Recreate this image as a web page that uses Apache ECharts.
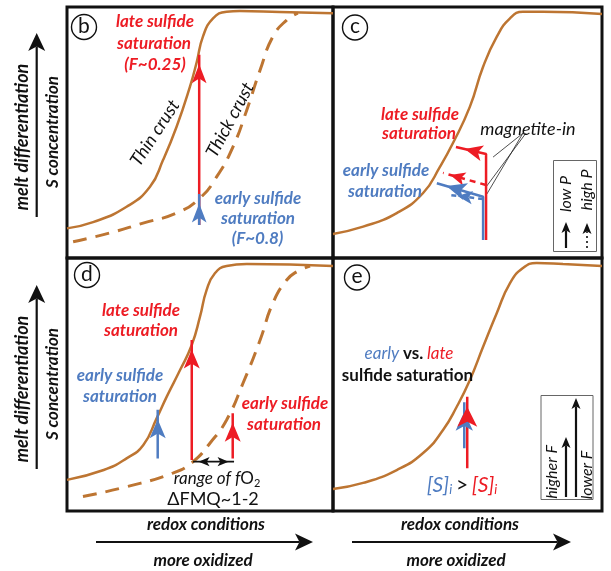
<!DOCTYPE html>
<html>
<head>
<meta charset="utf-8">
<script src="https://cdn.jsdelivr.net/npm/echarts@6/dist/echarts.min.js"></script>
<style>
  html, body { margin: 0; padding: 0; background: #fff; }
  #chart { width: 611px; height: 571px; }
</style>
</head>
<body>
<div id="chart"></div>
<script>
// Sulfide saturation vs. redox: schematic S-concentration curves (panels b–e).
// Every panel uses a 0–100 redox (x) and 0–100 S concentration (y) scale.

// ---- panel b: thin vs. thick crust ----
const thinCrustB = [[0, 11.8], [9.8, 14.3], [22.4, 20.4], [31.2, 28.4], [36.1, 39], [41.2, 52.3], [46.2, 68.2], [48.8, 78.2], [51.1, 88.2], [54.9, 95.5], [60, 98.1], [65, 98.4], [80, 98], [100, 97.5]];
const thickCrustB = [[2.3, 6.5], [16.2, 10], [28.6, 13.9], [41.2, 17.9], [50, 23.9], [56.3, 32.4], [62.4, 44.3], [67.6, 59], [72.6, 74.9], [77.4, 88.2], [82.6, 94.8], [86.8, 97.6]];
const lateSatB = [[49.7, 13.1], [49.7, 81]];
const earlySatB = [[49.7, 13.1], [49.7, 25.5]];

// ---- panel c: magnetite-in at low / high pressure ----
const curveC = [[0, 9.6], [11.2, 12.5], [23.7, 17.9], [33.5, 25.9], [39.8, 36.4], [44.6, 45.8], [50.9, 60.3], [55.8, 76.2], [60.9, 88.2], [65.8, 95.5], [70.6, 98.1], [78.1, 98.1], [100, 97.2]];
const lateLowP = [[56.9, 7.2], [56.9, 41.4], [45.7, 44.2]];
const lateHighP = [[56.9, 29.1], [40.9, 33.9]];
const earlyLowP = [[55.8, 7.2], [55.8, 24.4], [38.6, 29.8]];
const earlyHighP = [[55.8, 23.5], [43.5, 25.1]];
const magnetiteInLeaders = [
  [[70.6, 49.7], [59.5, 40.2]],
  [[71.7, 49.7], [56.9, 28.3]],
  [[70.6, 49.7], [57.2, 25.5]]
];

// ---- panel d: range of fO2 ----
const solidD = [[0, 12.3], [13.8, 16.2], [22.4, 20.8], [28.7, 26.1], [33.7, 36.6], [37.5, 45.2], [42.5, 55.7], [46.9, 65.6], [50, 76.8], [52.5, 87.4], [55.6, 94], [60, 96.8], [67.6, 97.6], [100, 96.8]];
const dashedD = [[6, 5.7], [22.4, 9.6], [39.8, 15], [47.4, 19.5], [53.8, 26.9], [60, 36], [66.2, 50.6], [72.6, 67.6], [77.4, 82.2], [82.6, 91.3], [86.4, 94.6], [91.4, 96.8]];
const earlyBlueD = [[34.1, 20.8], [34.1, 40]];
const lateRedD = [[46.9, 20.2], [46.9, 67.6]];
const earlyRedD = [[62.3, 20.8], [62.3, 38.6]];
const fo2Range = [[47.4, 19.5], [62.8, 19.5]];

// ---- panel e: initial S content ----
const curveE = [[0, 8.7], [11.2, 11.1], [23.7, 16.2], [33.5, 22.9], [40.9, 32], [46, 41.2], [50.9, 51.8], [55.8, 64.9], [60.9, 78.3], [65.8, 90.1], [70.6, 96], [75.7, 98], [85.5, 97.6], [100, 96.8]];
const earlyE = [[48.8, 24.8], [48.8, 43]];
const lateE = [[49.9, 16.9], [49.9, 45.2]];

// ---------------------------------------------------------------
const RED = '#ED1C24';
const BLUE = '#4F7CC1';
const BROWN = '#BD7532';
const FONT = 'Lato, "Open Sans", sans-serif';

const GRIDS = [
  { left: 67, top: 7, width: 266, height: 251 },
  { left: 333, top: 7, width: 269, height: 251 },
  { left: 67, top: 258, width: 266, height: 253 },
  { left: 333, top: 258, width: 269, height: 253 }
];

function curve(data, g, dashed) {
  return {
    type: 'line', xAxisIndex: g, yAxisIndex: g, data: data,
    smooth: 0.5, symbol: 'none', silent: true,
    lineStyle: { color: BROWN, width: dashed ? 3 : 2.5, type: dashed ? [14, 9] : 'solid', cap: 'butt' }
  };
}

// Screen-space angle of a segment, for orienting arrow heads.
function headFor(a, b, g, size) {
  const sx = GRIDS[g].width / 100, sy = GRIDS[g].height / 100;
  const dx = (b[0] - a[0]) * sx, dy = -(b[1] - a[1]) * sy;
  const rot = Math.atan2(-dx, -dy);
  return {
    value: b, symbol: 'arrow', symbolSize: size,
    symbolRotate: rot * 180 / Math.PI,
    symbolOffset: [Math.sin(rot) * size[1] / 2, Math.cos(rot) * size[1] / 2]
  };
}

function arrow(points, g, color, size, opts) {
  opts = opts || {};
  const n = points.length;
  const data = points.map(function (p, i) {
    if (i === n - 1) return headFor(points[n - 2], p, g, size);
    if (i === 0 && opts.both) return headFor(points[1], p, g, size);
    return { value: p, symbol: 'none' };
  });
  return {
    type: 'line', xAxisIndex: g, yAxisIndex: g, data: data,
    showSymbol: true, symbol: 'none', silent: true, animation: false,
    lineStyle: { color: color, width: opts.width || 2.5, type: opts.dash || 'solid', cap: 'butt' },
    itemStyle: { color: color, borderWidth: 0 }
  };
}

function txt(text, x, y, o) {
  o = o || {};
  return {
    type: 'text', x: x, y: y, rotation: (o.rot || 0) * Math.PI / 180, z: 10,
    style: {
      text: text, fill: o.color || '#111', align: 'center', verticalAlign: 'middle',
      fontFamily: FONT, fontSize: o.size || 17,
      fontStyle: o.italic === false ? 'normal' : 'italic',
      fontWeight: o.weight || 'bold',
      rich: o.rich
    }
  };
}

function badge(letter, cx, cy) {
  return [
    { type: 'circle', shape: { cx: cx, cy: cy, r: 12.5 }, style: { fill: '#fff', stroke: '#111', lineWidth: 1.4 }, z: 10 },
    { type: 'text', x: cx, y: cy - 1, z: 11, style: { text: letter, fill: '#111', fontFamily: FONT, fontSize: 21, align: 'center', verticalAlign: 'middle' } }
  ];
}

// Decorative arrow outside the plotting areas (axis meaning).
function gArrow(x1, y1, x2, y2, w, l, dash) {
  const len = Math.hypot(x2 - x1, y2 - y1);
  const ux = (x2 - x1) / len, uy = (y2 - y1) / len;
  const px = -uy, py = ux;
  const bx = x2 - ux * l, by = y2 - uy * l;
  const nx = x2 - ux * l * 0.75, ny = y2 - uy * l * 0.75;
  return [
    { type: 'line', z: 10, shape: { x1: x1, y1: y1, x2: nx, y2: ny }, style: { stroke: '#111', lineWidth: dash ? 1.6 : 2.2, lineDash: dash || null } },
    { type: 'polygon', z: 10, shape: { points: [[x2, y2], [bx + px * w / 2, by + py * w / 2], [nx, ny], [bx - px * w / 2, by - py * w / 2]] }, style: { fill: '#111' } }
  ];
}

const chart = echarts.init(document.getElementById('chart'), null, { renderer: 'canvas' });

const grid = GRIDS.map(function (g) {
  return Object.assign({ show: true, borderColor: '#111', borderWidth: 3, backgroundColor: 'transparent' }, g);
});
const xAxis = GRIDS.map(function (g, i) { return { type: 'value', gridIndex: i, min: 0, max: 100, show: false }; });
const yAxis = GRIDS.map(function (g, i) { return { type: 'value', gridIndex: i, min: 0, max: 100, show: false }; });

const series = [
  // b
  curve(thinCrustB, 0, false),
  curve(thickCrustB, 0, true),
  arrow(lateSatB, 0, RED, [11, 19]),
  arrow(earlySatB, 0, BLUE, [11, 19]),
  // c
  curve(curveC, 1, false),
  {
    type: 'lines', coordinateSystem: 'cartesian2d', xAxisIndex: 1, yAxisIndex: 1, silent: true,
    data: magnetiteInLeaders.map(function (c) { return { coords: c }; }),
    lineStyle: { color: '#222', width: 0.8, opacity: 1 }, symbol: 'none'
  },
  arrow(lateLowP, 1, RED, [12, 18]),
  arrow(lateHighP, 1, RED, [10, 15], { dash: [6, 5] }),
  arrow(earlyHighP, 1, BLUE, [10, 15], { dash: [5, 4] }),
  arrow(earlyLowP, 1, BLUE, [13, 20]),
  // d
  curve(solidD, 2, false),
  curve(dashedD, 2, true),
  arrow(lateRedD, 2, RED, [12, 19]),
  arrow(earlyBlueD, 2, BLUE, [12, 19]),
  arrow(earlyRedD, 2, RED, [12, 19]),
  arrow(fo2Range, 2, '#111', [7, 11], { both: true, width: 1.8 }),
  // e
  curve(curveE, 3, false),
  arrow(earlyE, 3, BLUE, [13, 19]),
  arrow(lateE, 3, RED, [15, 20])
];

const graphic = [].concat(
  // axis meaning, left column
  gArrow(36.7, 217, 36.7, 33, 17, 18),
  [txt('melt differentiation', 22.5, 137, { rot: 90, size: 18 }),
   txt('S concentration', 52.5, 132, { rot: 90, size: 17 })],
  gArrow(36.7, 469, 36.7, 285, 17, 18),
  [txt('melt differentiation', 22.5, 389, { rot: 90, size: 18 }),
   txt('S concentration', 52.5, 384, { rot: 90, size: 17 })],
  // axis meaning, bottom row
  [txt('redox conditions', 206, 525), txt('more oxidized', 203, 561)],
  gArrow(96, 542, 313, 542, 17, 18),
  [txt('redox conditions', 460, 525), txt('more oxidized', 456, 561)],
  gArrow(352, 542, 571, 542, 17, 18),

  // panel badges
  badge('b', 84, 27), badge('c', 355, 27.5), badge('d', 87, 275), badge('e', 357, 277.5),

  // panel b labels
  [txt('late sulfide', 155, 22, { color: RED }),
   txt('saturation', 154, 44, { color: RED }),
   txt('(F~0.25)', 155, 65, { color: RED }),
   txt('Thin crust', 155, 133, { rot: 57, weight: 'normal', size: 18 }),
   txt('Thick crust', 230, 120, { rot: 62, weight: 'normal', size: 18 }),
   txt('early sulfide', 258, 199, { color: BLUE }),
   txt('saturation', 258, 219, { color: BLUE }),
   txt('(F~0.8)', 257.5, 239, { color: BLUE })],

  // panel c labels
  [txt('late sulfide', 420, 115, { color: RED }),
   txt('saturation', 419, 134, { color: RED }),
   txt('early sulfide', 386, 171, { color: BLUE }),
   txt('saturation', 385, 192, { color: BLUE }),
   txt('magnetite-in', 528, 129, { weight: 'normal', size: 18 }),
   { type: 'rect', z: 9, shape: { x: 553.5, y: 160.5, width: 43, height: 91 }, style: { fill: '#fff', stroke: '#666', lineWidth: 1 } },
   txt('low P', 566, 194, { rot: 90, weight: 'normal', size: 16 }),
   txt('high P', 587, 190, { rot: 90, weight: 'normal', size: 16 })],
  gArrow(566, 248, 566, 222, 9, 11),
  gArrow(587, 248, 587, 223, 9, 11, [2, 3]),

  // panel d labels
  [txt('late sulfide', 141, 311, { color: RED }),
   txt('saturation', 141, 331, { color: RED }),
   txt('early sulfide', 120, 376, { color: BLUE }),
   txt('saturation', 120, 397, { color: BLUE }),
   txt('early sulfide', 285, 404, { color: RED }),
   txt('saturation', 284, 425, { color: RED }),
   txt('range of f{o|O}{s|2}', 217, 479, { weight: 'normal', rich: {
     o: { fontFamily: FONT, fontSize: 17, fontStyle: 'normal', fill: '#111' },
     s: { fontFamily: FONT, fontSize: 11, fontStyle: 'normal', fill: '#111', padding: [8, 0, 0, 0] } } }),
   txt('ΔFMQ~1-2', 213, 499, { weight: 'normal', italic: false, size: 18 })],

  // panel e labels
  [txt('{b|early} {k|vs.} {r|late}', 409, 354, { rich: {
     b: { fill: BLUE, fontFamily: FONT, fontSize: 17, fontStyle: 'italic', fontWeight: 'normal' },
     k: { fill: '#111', fontFamily: FONT, fontSize: 17, fontWeight: 'bold' },
     r: { fill: RED, fontFamily: FONT, fontSize: 17, fontStyle: 'italic', fontWeight: 'normal' } } }),
   txt('sulfide saturation', 407.5, 376, { italic: false }),
   txt('{b|[S]}{bs|i} {k|>} {r|[S]}{rs|i}', 462, 485, { rich: {
     b: { fill: BLUE, fontFamily: FONT, fontSize: 21, fontStyle: 'italic', fontWeight: 'normal' },
     bs: { fill: BLUE, fontFamily: FONT, fontSize: 13, fontStyle: 'italic', padding: [9, 0, 0, 0] },
     k: { fill: '#111', fontFamily: FONT, fontSize: 21 },
     r: { fill: RED, fontFamily: FONT, fontSize: 21, fontStyle: 'italic', fontWeight: 'normal' },
     rs: { fill: RED, fontFamily: FONT, fontSize: 13, fontStyle: 'italic', padding: [9, 0, 0, 0] } } }),
   { type: 'rect', z: 9, shape: { x: 541, y: 395.5, width: 52, height: 104 }, style: { fill: '#fff', stroke: '#666', lineWidth: 1 } },
   txt('higher F', 552, 472, { rot: 90, weight: 'normal', size: 16 }),
   txt('lower F', 587, 475, { rot: 90, weight: 'normal', size: 16 })],
  gArrow(566, 497, 566, 437, 9, 11),
  gArrow(576, 497, 576, 398, 9, 11)
);

chart.setOption({
  backgroundColor: '#fff',
  animation: false,
  grid: grid,
  xAxis: xAxis,
  yAxis: yAxis,
  series: series,
  graphic: { elements: graphic }
});
</script>
</body>
</html>
